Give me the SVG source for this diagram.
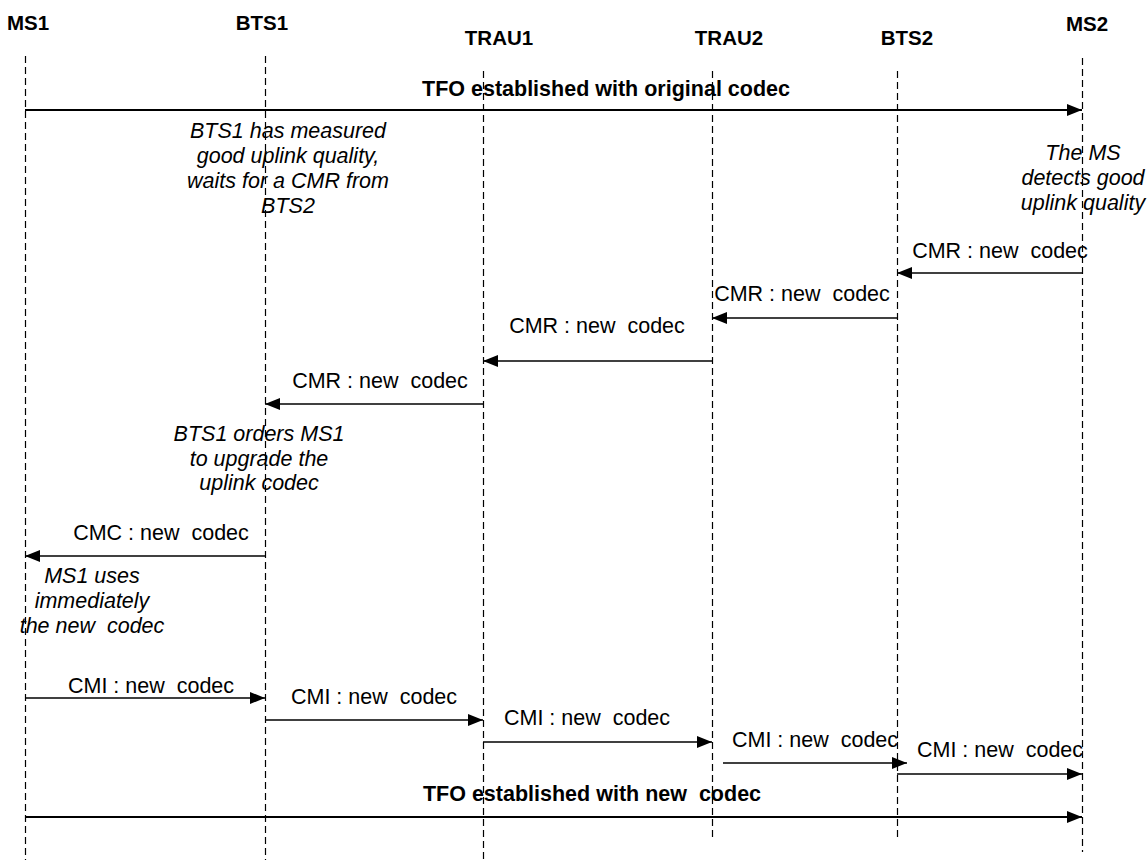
<svg xmlns="http://www.w3.org/2000/svg" width="1147" height="860" viewBox="0 0 1147 860">
<defs>
<marker id="ah" markerUnits="userSpaceOnUse" markerWidth="16" markerHeight="13" refX="15" refY="6" orient="auto">
<path d="M0,0 L15,6 L0,12 z" fill="#000"/>
</marker>
<style>
.life{stroke:#000;stroke-width:1.2;stroke-dasharray:7 4;fill:none}
.msg{stroke:#000;stroke-width:1.4;fill:none;marker-end:url(#ah)}
.tfo{stroke:#000;stroke-width:2;fill:none;marker-end:url(#ah)}
.hdr{font-family:"Liberation Sans",Arial,sans-serif;font-weight:bold;font-size:20.5px;fill:#000;text-anchor:middle}
.big{font-family:"Liberation Sans",Arial,sans-serif;font-weight:bold;font-size:21.5px;fill:#000;text-anchor:middle;white-space:pre}
.lbl{font-family:"Liberation Sans",Arial,sans-serif;font-size:21.5px;fill:#000;text-anchor:middle;white-space:pre}
.note{font-family:"Liberation Sans",Arial,sans-serif;font-style:italic;font-size:21.5px;fill:#000;text-anchor:middle;white-space:pre}
</style>
</defs>
<rect width="1147" height="860" fill="#fff"/>
<g id="MS1"><line class="life" x1="25.5" y1="56" x2="25.5" y2="860"/><text class="hdr" x="28" y="30">MS1</text></g>
<g id="BTS1"><line class="life" x1="265.5" y1="56" x2="265.5" y2="860"/><text class="hdr" x="262" y="30">BTS1</text></g>
<g id="TRAU1"><line class="life" x1="483.5" y1="71" x2="483.5" y2="860"/><text class="hdr" x="499" y="45">TRAU1</text></g>
<g id="TRAU2"><line class="life" x1="712.5" y1="71" x2="712.5" y2="840"/><text class="hdr" x="729" y="45">TRAU2</text></g>
<g id="BTS2"><line class="life" x1="897.5" y1="71" x2="897.5" y2="840"/><text class="hdr" x="907" y="45">BTS2</text></g>
<g id="MS2"><line class="life" x1="1082.5" y1="58" x2="1082.5" y2="852"/><text class="hdr" x="1087" y="31">MS2</text></g>
<g id="connectors">
<line class="tfo" x1="25" y1="110" x2="1082" y2="110"/>
<line class="msg" x1="1082" y1="273" x2="897" y2="273"/>
<line class="msg" x1="897" y1="318" x2="712" y2="318"/>
<line class="msg" x1="712" y1="361" x2="483" y2="361"/>
<line class="msg" x1="483" y1="404" x2="265" y2="404"/>
<line class="msg" x1="265" y1="556" x2="25" y2="556"/>
<line class="msg" x1="25" y1="698" x2="265" y2="698"/>
<line class="msg" x1="265" y1="720" x2="483" y2="720"/>
<line class="msg" x1="483" y1="742" x2="712" y2="742"/>
<line class="msg" x1="723" y1="763" x2="907" y2="763"/>
<line class="msg" x1="897" y1="774" x2="1082" y2="774"/>
<line class="tfo" x1="25" y1="817" x2="1082" y2="817"/>
</g>
<g id="labels">
<text class="big" x="606" y="96">TFO established with original codec</text>
<text class="lbl" x="1000" y="258">CMR : new  codec</text>
<text class="lbl" x="802" y="301">CMR : new  codec</text>
<text class="lbl" x="597" y="333">CMR : new  codec</text>
<text class="lbl" x="380" y="388">CMR : new  codec</text>
<text class="lbl" x="161" y="540">CMC : new  codec</text>
<text class="lbl" x="151" y="693">CMI : new  codec</text>
<text class="lbl" x="374" y="704">CMI : new  codec</text>
<text class="lbl" x="587" y="725">CMI : new  codec</text>
<text class="lbl" x="815" y="747">CMI : new  codec</text>
<text class="lbl" x="1000" y="757">CMI : new  codec</text>
<text class="big" x="592" y="801">TFO established with new  codec</text>
</g>
<g id="notes">
<text class="note" x="288" y="138">BTS1 has measured</text>
<text class="note" x="288" y="163">good uplink quality,</text>
<text class="note" x="288" y="188">waits for a CMR from</text>
<text class="note" x="288" y="213">BTS2</text>
<text class="note" x="1083" y="160">The MS</text>
<text class="note" x="1083" y="185">detects good</text>
<text class="note" x="1083" y="210">uplink quality</text>
<text class="note" x="259" y="441">BTS1 orders MS1</text>
<text class="note" x="259" y="466">to upgrade the</text>
<text class="note" x="259" y="490">uplink codec</text>
<text class="note" x="92" y="583">MS1 uses</text>
<text class="note" x="92" y="608">immediately</text>
<text class="note" x="92" y="633">the new  codec</text>
</g>
</svg>
